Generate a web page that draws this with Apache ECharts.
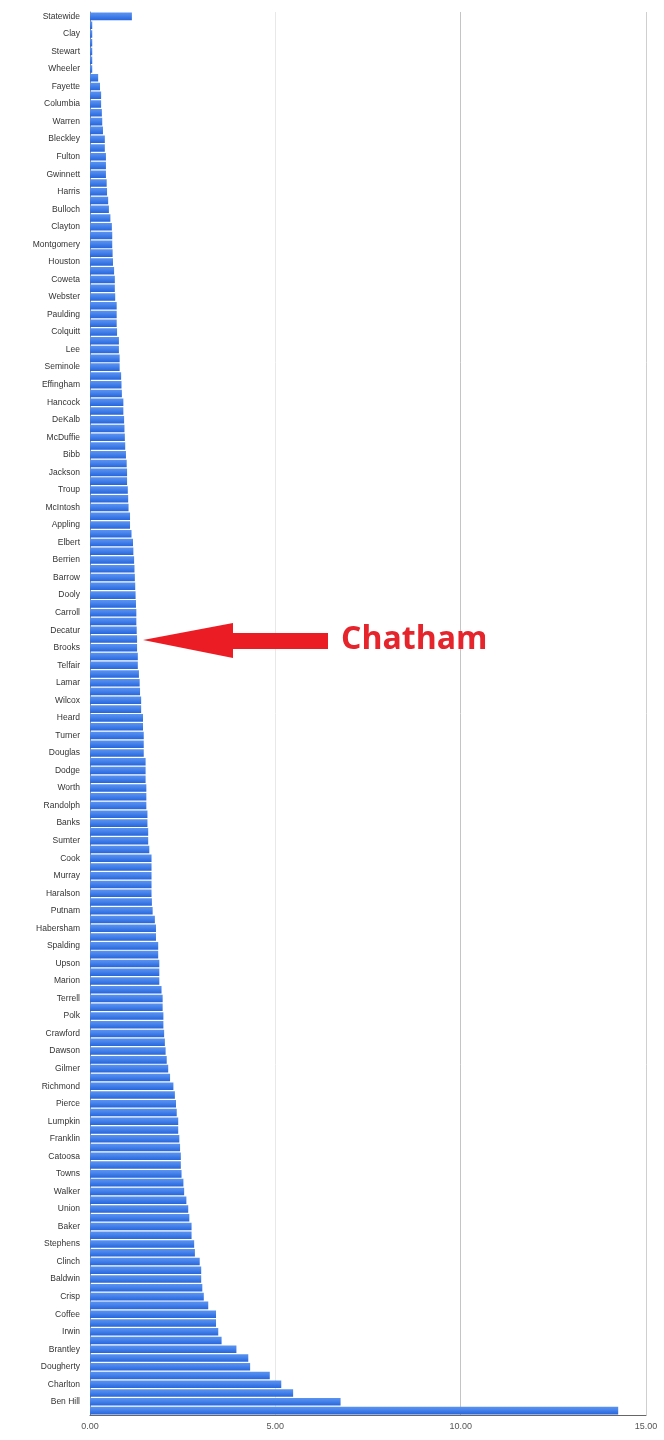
<!DOCTYPE html>
<html>
<head>
<meta charset="utf-8">
<script src="https://cdn.jsdelivr.net/npm/echarts@6/dist/echarts.min.js"></script>
<style>
html,body{margin:0;padding:0;background:#fff;}
#chart{width:664px;height:1440px;}
</style>
</head>
<body>
<div id="chart"></div>
<script>
// Category names (only every other label is visible in the reference; hidden ones left blank)
const categories = [
 'Statewide','', 'Clay','', 'Stewart','', 'Wheeler','', 'Fayette','', 'Columbia','',
 'Warren','', 'Bleckley','', 'Fulton','', 'Gwinnett','', 'Harris','', 'Bulloch','',
 'Clayton','', 'Montgomery','', 'Houston','', 'Coweta','', 'Webster','', 'Paulding','',
 'Colquitt','', 'Lee','', 'Seminole','', 'Effingham','', 'Hancock','', 'DeKalb','',
 'McDuffie','', 'Bibb','', 'Jackson','', 'Troup','', 'McIntosh','', 'Appling','',
 'Elbert','', 'Berrien','', 'Barrow','', 'Dooly','', 'Carroll','', 'Decatur','Chatham',
 'Brooks','', 'Telfair','', 'Lamar','', 'Wilcox','', 'Heard','', 'Turner','',
 'Douglas','', 'Dodge','', 'Worth','', 'Randolph','', 'Banks','', 'Sumter','',
 'Cook','', 'Murray','', 'Haralson','', 'Putnam','', 'Habersham','', 'Spalding','',
 'Upson','', 'Marion','', 'Terrell','', 'Polk','', 'Crawford','', 'Dawson','',
 'Gilmer','', 'Richmond','', 'Pierce','', 'Lumpkin','', 'Franklin','', 'Catoosa','',
 'Towns','', 'Walker','', 'Union','', 'Baker','', 'Stephens','', 'Clinch','',
 'Baldwin','', 'Crisp','', 'Coffee','', 'Irwin','', 'Brantley','', 'Dougherty','',
 'Charlton','', 'Ben Hill',''
];

const values = [
 1.13, 0.06, 0.06, 0.06, 0.06, 0.06, 0.06, 0.22, 0.27, 0.30,
 0.30, 0.32, 0.33, 0.35, 0.40, 0.40, 0.43, 0.43, 0.43, 0.45,
 0.46, 0.49, 0.51, 0.55, 0.59, 0.60, 0.60, 0.61, 0.62, 0.65,
 0.67, 0.67, 0.68, 0.72, 0.72, 0.72, 0.73, 0.78, 0.78, 0.80,
 0.80, 0.84, 0.85, 0.86, 0.90, 0.90, 0.92, 0.93, 0.94, 0.95,
 0.97, 0.99, 1.00, 1.00, 1.02, 1.03, 1.04, 1.08, 1.08, 1.12,
 1.16, 1.17, 1.19, 1.20, 1.21, 1.22, 1.23, 1.24, 1.25, 1.25,
 1.26, 1.27, 1.27, 1.29, 1.29, 1.32, 1.34, 1.35, 1.38, 1.38,
 1.43, 1.43, 1.45, 1.45, 1.45, 1.50, 1.50, 1.50, 1.52, 1.52,
 1.52, 1.55, 1.55, 1.57, 1.57, 1.60, 1.66, 1.66, 1.66, 1.66,
 1.66, 1.67, 1.69, 1.75, 1.78, 1.78, 1.84, 1.84, 1.87, 1.87,
 1.87, 1.93, 1.96, 1.96, 1.98, 1.98, 2.00, 2.02, 2.04, 2.07,
 2.11, 2.16, 2.25, 2.29, 2.32, 2.34, 2.38, 2.38, 2.41, 2.43,
 2.45, 2.45, 2.47, 2.52, 2.54, 2.60, 2.65, 2.68, 2.74, 2.74,
 2.81, 2.83, 2.96, 3.00, 3.00, 3.03, 3.07, 3.19, 3.40, 3.40,
 3.46, 3.55, 3.95, 4.27, 4.32, 4.85, 5.16, 5.48, 6.76, 14.25
];

const xTicks = [0, 5, 10, 15];
const highlightName = 'Chatham';

const chart = echarts.init(document.getElementById('chart'), null, {renderer: 'canvas'});

const barColor = new echarts.graphic.LinearGradient(0, 0, 0, 1, [
  {offset: 0, color: '#5a92ee'},
  {offset: 0.35, color: '#4a86ec'},
  {offset: 1, color: '#2765dc'}
]);

chart.setOption({
  animation: false,
  grid: {left: 90, right: 18, top: 12, bottom: 25, containLabel: false},
  xAxis: {
    type: 'value',
    min: xTicks[0],
    max: xTicks[xTicks.length - 1],
    interval: 5,
    axisLine: {show: true, onZero: false, lineStyle: {color: '#666', width: 1}},
    axisTick: {show: false},
    axisLabel: {
      margin: 7,
      color: '#555',
      fontSize: 9,
      fontFamily: 'Liberation Sans, Arial, sans-serif',
      formatter: v => v.toFixed(2)
    },
    splitLine: {show: true, lineStyle: {color: ['#ddd', '#e8e8e8', '#c4c4c4', '#cfcfcf'], width: 1}}
  },
  yAxis: {
    type: 'category',
    data: categories,
    inverse: true,
    axisLine: {show: true, lineStyle: {color: '#888', width: 1}},
    axisTick: {show: false},
    axisLabel: {
      interval: 1,
      margin: 10,
      color: '#333',
      fontSize: 8.5,
      fontFamily: 'Liberation Sans, Arial, sans-serif'
    }
  },
  series: [{
    type: 'bar',
    data: values,
    barCategoryGap: '14%',
    itemStyle: {color: barColor}
  }]
});

// Annotation arrow pointing at the highlighted category
const idx = categories.indexOf(highlightName);
const cy = chart.convertToPixel({yAxisIndex: 0}, idx) + 1;
const tipX = 143, headX = 233, shaftEnd = 328;
chart.setOption({
  graphic: [
    {
      type: 'polygon',
      shape: {points: [
        [tipX, cy], [headX, cy - 17], [headX, cy - 7], [shaftEnd, cy - 7],
        [shaftEnd, cy + 9], [headX, cy + 9], [headX, cy + 18]
      ]},
      style: {fill: '#ec1c24'}
    },
    {
      type: 'text',
      x: 341,
      y: cy,
      style: {
        text: highlightName,
        fill: '#e5242b',
        font: 'bold 32px "Open Sans", sans-serif',
        textVerticalAlign: 'middle',
        verticalAlign: 'middle'
      }
    }
  ]
});
</script>
</body>
</html>
